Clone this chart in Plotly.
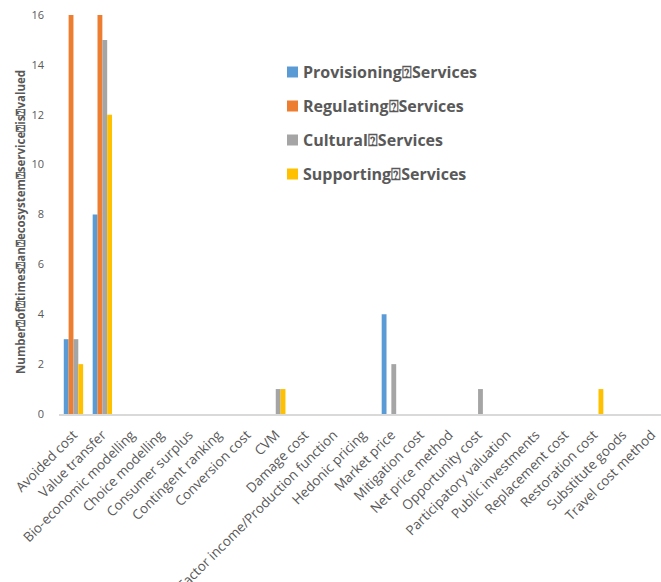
import plotly.graph_objects as go

categories = ["Avoided cost", "Value transfer", "Bio-economic modelling", "Choice modelling",
              "Consumer surplus", "Contingent ranking", "Conversion cost", "CVM", "Damage cost",
              "Factor income/Production function", "Hedonic pricing", "Market price",
              "Mitigation cost", "Net price method", "Opportunity cost", "Participatory valuation",
              "Public investments", "Replacement cost", "Restoration cost", "Substitute goods",
              "Travel cost method"]

provisioning = [3, 8, 0, 0, 0, 0, 0, 0, 0, 0, 0, 4, 0, 0, 0, 0, 0, 0, 0, 0, 0]
regulating   = [16, 16, 0, 0, 0, 0, 0, 0, 0, 0, 0, 0, 0, 0, 0, 0, 0, 0, 0, 0, 0]
cultural     = [3, 15, 0, 0, 0, 0, 0, 1, 0, 0, 0, 2, 0, 0, 1, 0, 0, 0, 0, 0, 0]
supporting   = [2, 12, 0, 0, 0, 0, 0, 1, 0, 0, 0, 0, 0, 0, 0, 0, 0, 0, 1, 0, 0]

series_names = ["Provisioning\u2370Services", "Regulating\u2370Services",
                "Cultural\u2370Services", "Supporting\u2370Services"]
series_values = [provisioning, regulating, cultural, supporting]
colors = ["#5B9BD5", "#ED7D31", "#A5A5A5", "#FFC000"]

y_title = "Number\u2370of\u2370times\u2370an\u2370ecosystem\u2370service\u2370is\u2370valued"
y_ticks = [0, 2, 4, 6, 8, 10, 12, 14, 16]

FONT = "Open Sans"
TXT = "#595959"

# plot area in pixels
L, T, B, PW, PH = 59, 15, 168, 602, 399


def px_x(x):
    return (x - L) / PW


def px_y(y):
    return (T + PH - y) / PH


fig = go.Figure()
for name, vals, col in zip(series_names, series_values, colors):
    fig.add_trace(go.Bar(x=categories, y=vals, name=name,
                         marker=dict(color=col, line=dict(width=0)), showlegend=False))

# legend drawn as boxes + text
shapes = []
annotations = []
for i, (name, col) in enumerate(zip(series_names, colors)):
    yc = 72 + i * 34
    shapes.append(dict(type="rect", xref="paper", yref="paper",
                       x0=px_x(287), x1=px_x(298), y0=px_y(yc + 5.5), y1=px_y(yc - 5.5),
                       fillcolor=col, line=dict(width=0)))
    annotations.append(dict(text=name, x=px_x(301), y=px_y(yc), xref="paper", yref="paper",
                            xanchor="left", yanchor="middle", showarrow=False,
                            font=dict(family=FONT, size=16, color=TXT, weight="bold")))

annotations.append(dict(text=y_title, textangle=-90, x=px_x(20), y=px_y(222),
                        xref="paper", yref="paper", xanchor="center", yanchor="middle",
                        showarrow=False,
                        font=dict(family=FONT, size=11.5, color=TXT, weight="bold")))

fig.update_layout(
    width=661, height=582,
    margin=dict(l=L, r=0, t=T, b=B, autoexpand=False),
    paper_bgcolor="white", plot_bgcolor="white",
    barmode="group", bargap=0.33, bargroupgap=0,
    font=dict(family=FONT, color=TXT),
    showlegend=False,
    shapes=shapes,
    annotations=annotations,
    xaxis=dict(range=[-0.5, 20.33], showline=True, linecolor="#D9D9D9", linewidth=1.5,
               showgrid=False, zeroline=False, tickangle=-45, ticks="",
               ticklabelstandoff=6, automargin=False,
               tickfont=dict(family=FONT, size=13.5, color=TXT)),
    yaxis=dict(range=[0, 16], tickvals=y_ticks, showgrid=False, zeroline=False, showline=False,
               ticklabelstandoff=14, automargin=False,
               tickfont=dict(family=FONT, size=11, color=TXT)),
)

fig.write_html("out.html")
